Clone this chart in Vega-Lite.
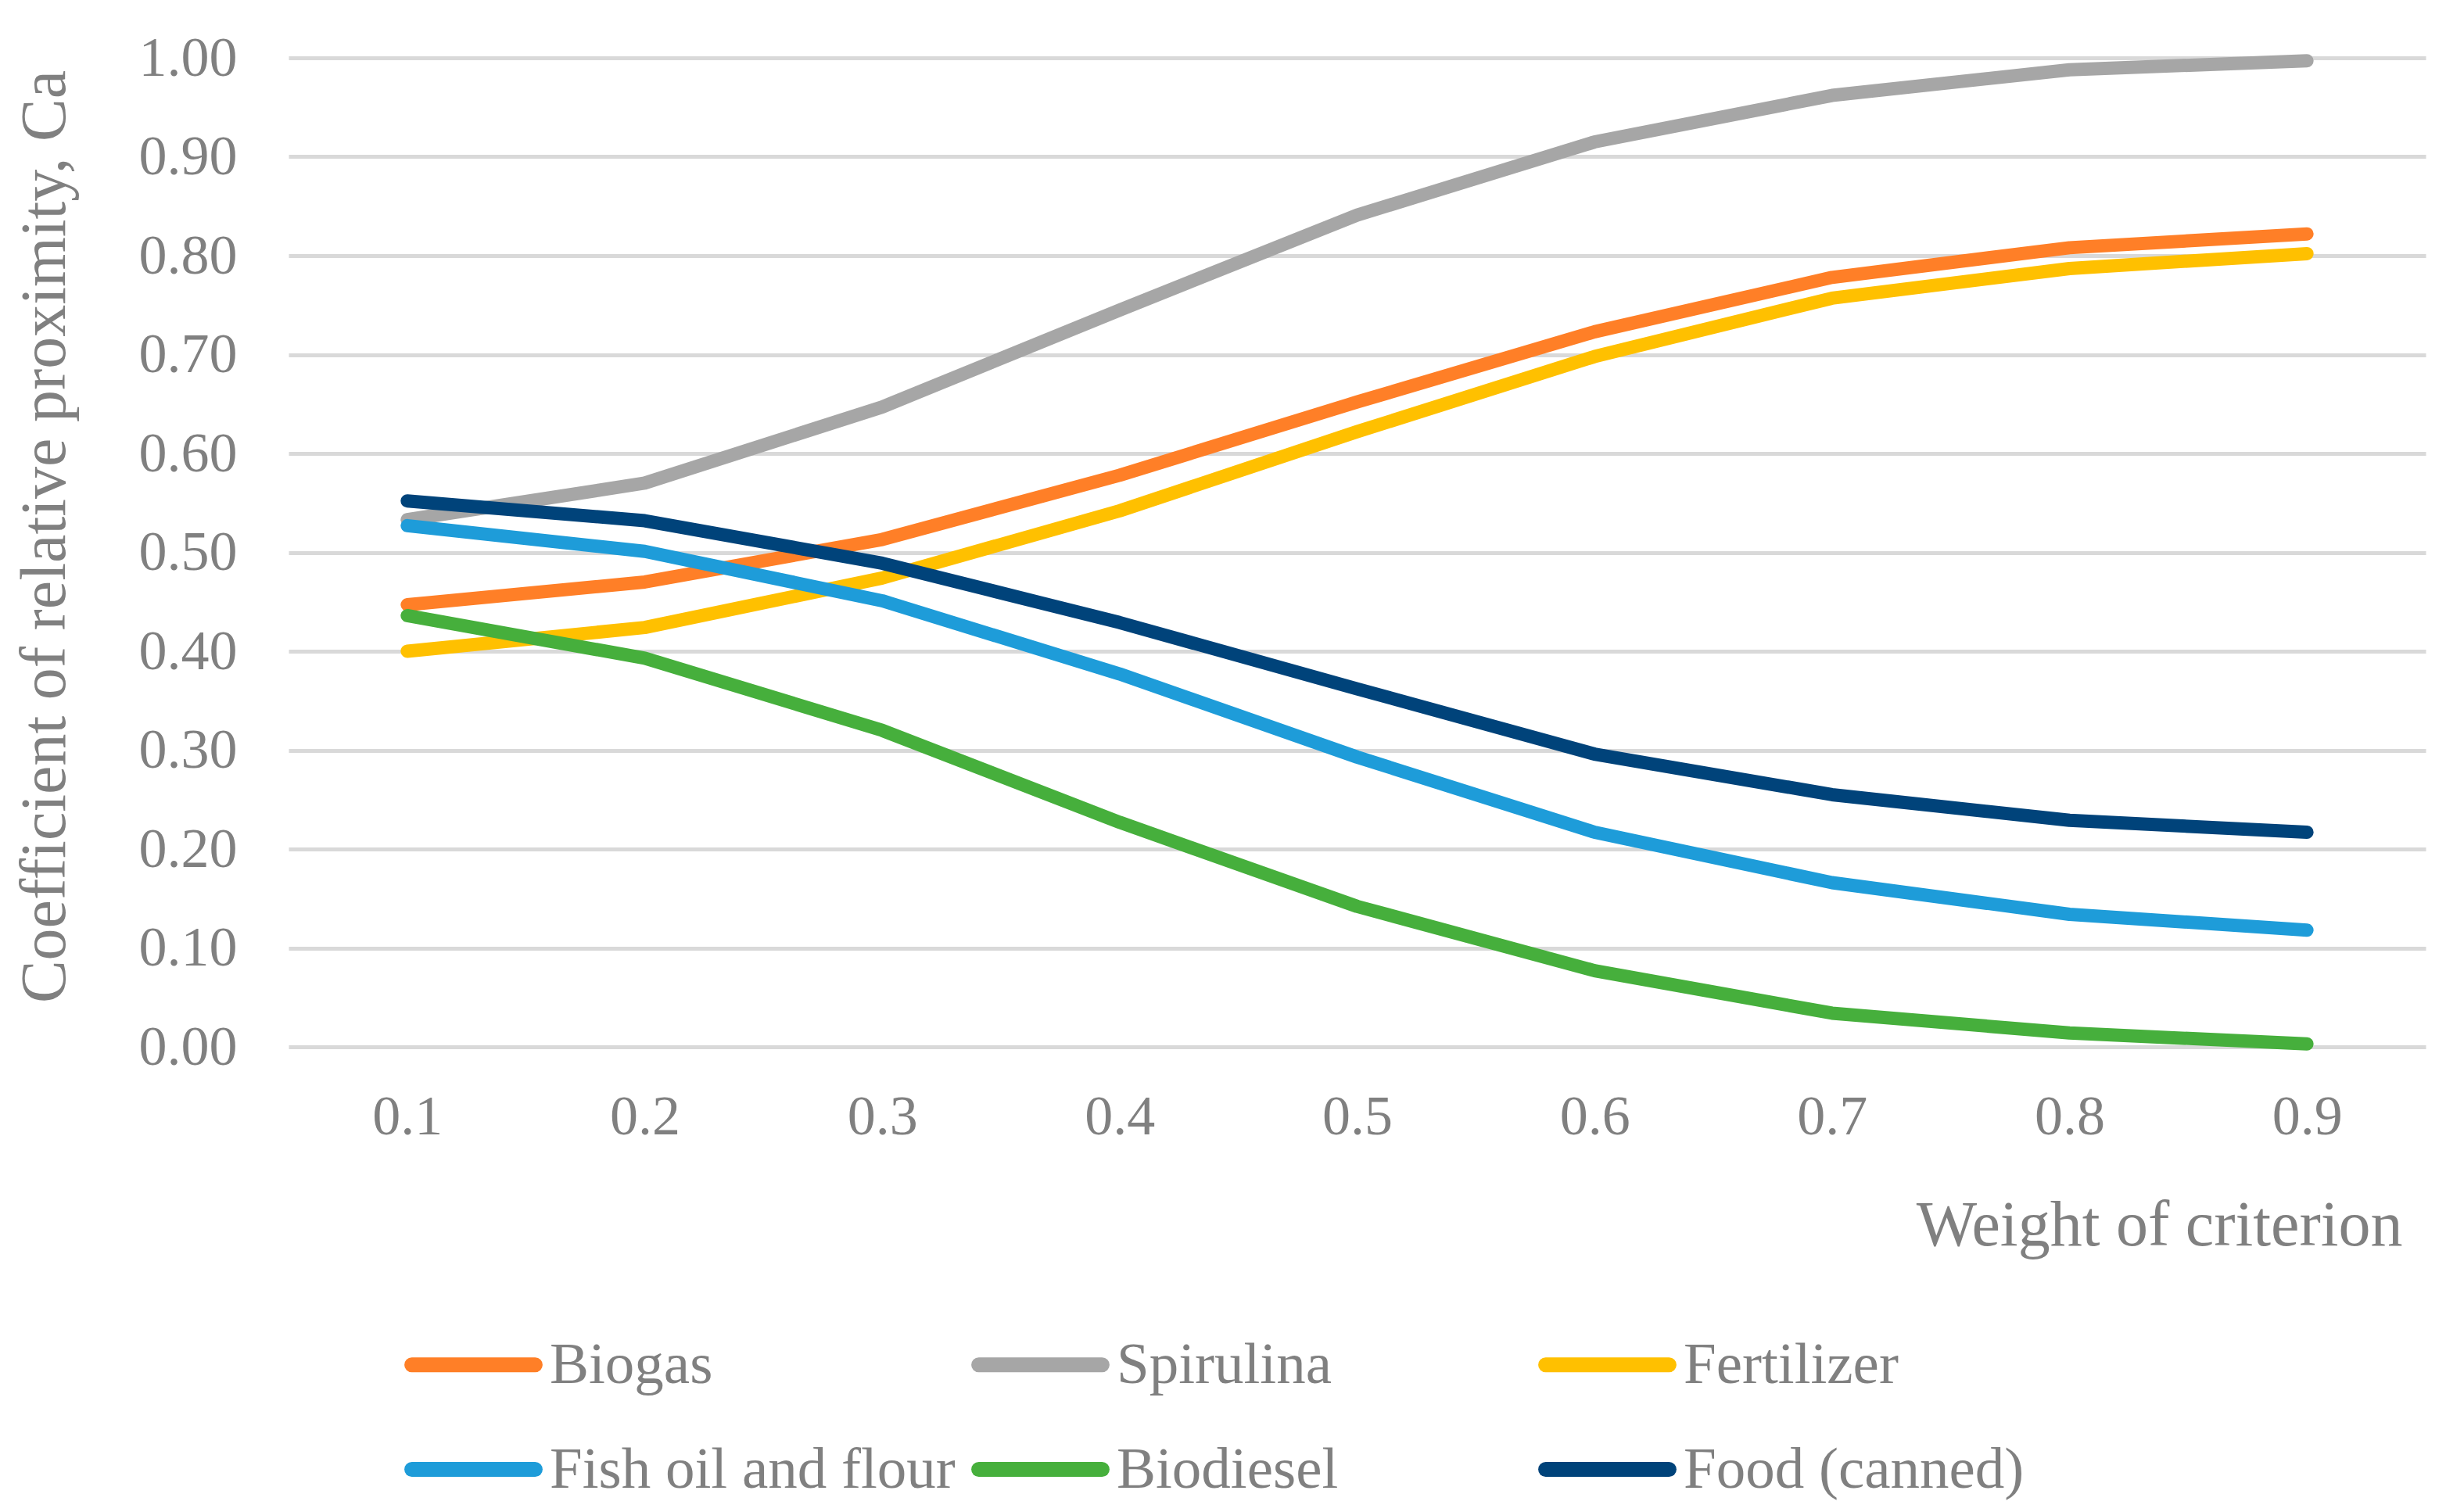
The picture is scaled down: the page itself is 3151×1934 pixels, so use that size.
{
  "$schema": "https://vega.github.io/schema/vega-lite/v6.json",
  "width": 2733,
  "height": 1265,
  "autosize": {"type": "none"},
  "padding": {"left": 369, "top": 74, "right": 49, "bottom": 595},
  "background": "white",
  "config": {
    "view": {"stroke": null},
    "font": "Liberation Serif"
  },
  "data": {
    "values": [
      {"w": "0.1", "s": "Biogas", "v": 0.447},
      {"w": "0.2", "s": "Biogas", "v": 0.470},
      {"w": "0.3", "s": "Biogas", "v": 0.513},
      {"w": "0.4", "s": "Biogas", "v": 0.578},
      {"w": "0.5", "s": "Biogas", "v": 0.652},
      {"w": "0.6", "s": "Biogas", "v": 0.723},
      {"w": "0.7", "s": "Biogas", "v": 0.778},
      {"w": "0.8", "s": "Biogas", "v": 0.808},
      {"w": "0.9", "s": "Biogas", "v": 0.822},
      {"w": "0.1", "s": "Spirulina", "v": 0.533},
      {"w": "0.2", "s": "Spirulina", "v": 0.570},
      {"w": "0.3", "s": "Spirulina", "v": 0.647},
      {"w": "0.4", "s": "Spirulina", "v": 0.745},
      {"w": "0.5", "s": "Spirulina", "v": 0.841},
      {"w": "0.6", "s": "Spirulina", "v": 0.915},
      {"w": "0.7", "s": "Spirulina", "v": 0.962},
      {"w": "0.8", "s": "Spirulina", "v": 0.988},
      {"w": "0.9", "s": "Spirulina", "v": 0.997},
      {"w": "0.1", "s": "Fertilizer", "v": 0.400},
      {"w": "0.2", "s": "Fertilizer", "v": 0.424},
      {"w": "0.3", "s": "Fertilizer", "v": 0.474},
      {"w": "0.4", "s": "Fertilizer", "v": 0.542},
      {"w": "0.5", "s": "Fertilizer", "v": 0.622},
      {"w": "0.6", "s": "Fertilizer", "v": 0.698},
      {"w": "0.7", "s": "Fertilizer", "v": 0.757},
      {"w": "0.8", "s": "Fertilizer", "v": 0.787},
      {"w": "0.9", "s": "Fertilizer", "v": 0.802},
      {"w": "0.1", "s": "Fish oil and flour", "v": 0.527},
      {"w": "0.2", "s": "Fish oil and flour", "v": 0.501},
      {"w": "0.3", "s": "Fish oil and flour", "v": 0.451},
      {"w": "0.4", "s": "Fish oil and flour", "v": 0.377},
      {"w": "0.5", "s": "Fish oil and flour", "v": 0.293},
      {"w": "0.6", "s": "Fish oil and flour", "v": 0.217},
      {"w": "0.7", "s": "Fish oil and flour", "v": 0.166},
      {"w": "0.8", "s": "Fish oil and flour", "v": 0.134},
      {"w": "0.9", "s": "Fish oil and flour", "v": 0.118},
      {"w": "0.1", "s": "Biodiesel", "v": 0.436},
      {"w": "0.2", "s": "Biodiesel", "v": 0.393},
      {"w": "0.3", "s": "Biodiesel", "v": 0.320},
      {"w": "0.4", "s": "Biodiesel", "v": 0.227},
      {"w": "0.5", "s": "Biodiesel", "v": 0.142},
      {"w": "0.6", "s": "Biodiesel", "v": 0.077},
      {"w": "0.7", "s": "Biodiesel", "v": 0.034},
      {"w": "0.8", "s": "Biodiesel", "v": 0.014},
      {"w": "0.9", "s": "Biodiesel", "v": 0.003},
      {"w": "0.1", "s": "Food (canned)", "v": 0.552},
      {"w": "0.2", "s": "Food (canned)", "v": 0.532},
      {"w": "0.3", "s": "Food (canned)", "v": 0.489},
      {"w": "0.4", "s": "Food (canned)", "v": 0.429},
      {"w": "0.5", "s": "Food (canned)", "v": 0.362},
      {"w": "0.6", "s": "Food (canned)", "v": 0.296},
      {"w": "0.7", "s": "Food (canned)", "v": 0.255},
      {"w": "0.8", "s": "Food (canned)", "v": 0.229},
      {"w": "0.9", "s": "Food (canned)", "v": 0.217}
    ]
  },
  "mark": {"type": "line", "strokeWidth": 17, "strokeCap": "round", "strokeJoin": "round"},
  "encoding": {
    "x": {
      "field": "w",
      "type": "ordinal",
      "sort": null,
      "axis": {
        "labelAngle": 0,
        "labelPadding": 54,
        "labelFont": "Liberation Serif",
        "labelFontSize": 72,
        "labelColor": "#808080",
        "domain": false,
        "ticks": false,
        "grid": false,
        "title": "Weight of criterion",
        "titleFont": "Liberation Serif",
        "titleFontSize": 82,
        "titleFontWeight": "normal",
        "titleColor": "#808080",
        "titleX": 2703,
        "titleY": 253,
        "titleAlign": "right",
        "titleBaseline": "alphabetic"
      }
    },
    "y": {
      "field": "v",
      "type": "quantitative",
      "scale": {"domain": [0, 1], "nice": false, "zero": true},
      "axis": {
        "values": [0, 0.1, 0.2, 0.3, 0.4, 0.5, 0.6, 0.7, 0.8, 0.9, 1.0],
        "format": ".2f",
        "labelPadding": 66,
        "labelFont": "Liberation Serif",
        "labelFontSize": 72,
        "labelColor": "#808080",
        "domain": false,
        "ticks": false,
        "grid": true,
        "gridColor": "#D9D9D9",
        "gridWidth": 5,
        "title": "Coefficient of relative proximity, Ca",
        "titleFont": "Liberation Serif",
        "titleFontSize": 82,
        "titleFontWeight": "normal",
        "titleColor": "#808080",
        "titleX": -287,
        "titleY": 612,
        "titleAlign": "center",
        "titleBaseline": "alphabetic"
      }
    },
    "color": {
      "field": "s",
      "type": "nominal",
      "sort": null,
      "scale": {
        "domain": ["Biogas", "Spirulina", "Fertilizer", "Fish oil and flour", "Biodiesel", "Food (canned)"],
        "range": ["#FF7F27", "#A6A6A6", "#FFC000", "#1E9CD9", "#46AF3C", "#00437A"]
      },
      "legend": {
        "title": null,
        "orient": "none",
        "legendX": 199,
        "legendY": 1634,
        "direction": "horizontal",
        "columns": 3,
        "gridAlign": "all",
        "columnPadding": -9,
        "rowPadding": 57,
        "padding": 0,
        "symbolType": "M-3.67,0H3.67",
        "symbolSize": 1849,
        "symbolStrokeWidth": 19,
        "labelOffset": 60,
        "labelFont": "Liberation Serif",
        "labelFontSize": 75,
        "labelColor": "#808080",
        "labelLimit": 2000,
        "encode": {"symbols": {"update": {"strokeCap": {"value": "round"}}}}
      }
    }
  }
}
